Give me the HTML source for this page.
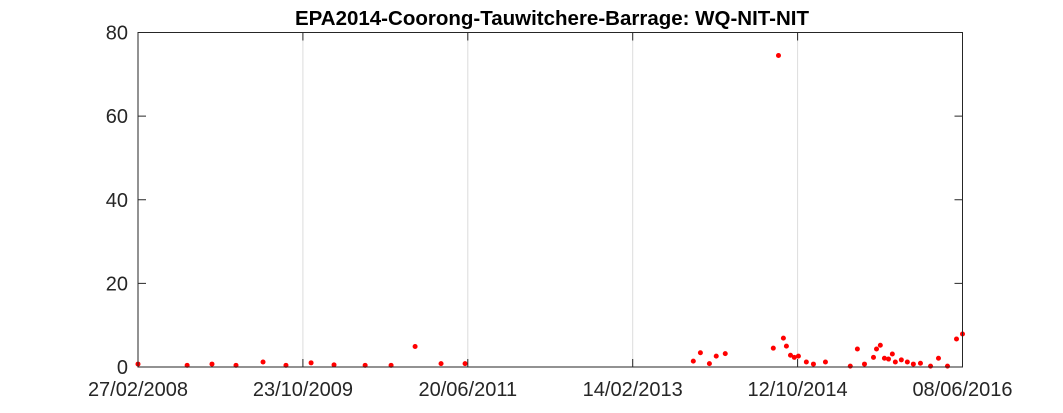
<!DOCTYPE html>
<html><head><meta charset="utf-8"><style>
html,body{margin:0;padding:0;background:#fff;}
svg{display:block;font-family:"Liberation Sans",Arial,sans-serif;}
</style></head><body>
<svg id="chart" width="1063" height="413">
<rect x="0" y="0" width="1063" height="413" fill="#fff"/>
<g id="grid"></g>
<g id="points"></g>
<g id="axes"></g>
<text x="552" y="25" text-anchor="middle" font-size="20.5" font-weight="bold" fill="#000">EPA2014-Coorong-Tauwitchere-Barrage: WQ-NIT-NIT</text>
</svg>
<script>
// days since 27/02/2008
const dayOffsets = [0,180,271,359,458,542,634,718,832,927,1015,1110,1198,2034,2060,2093,2118,2151,2327,2346,2364,2375,2390,2404,2419,2448,2474,2518,2609,2635,2661,2694,2705,2719,2734,2749,2763,2774,2796,2818,2840,2866,2903,2932,2965,2998,3020];
const values = [0.7,0.4,0.7,0.4,1.2,0.4,1.0,0.5,0.4,0.4,4.9,0.8,0.8,1.4,3.4,0.8,2.6,3.2,4.5,74.5,6.9,5.0,2.8,2.3,2.6,1.2,0.7,1.2,0.2,4.3,0.7,2.3,4.3,5.2,2.1,1.9,3.1,1.2,1.7,1.2,0.7,0.9,0.2,2.1,0.2,6.7,7.9];
const xTickDays = [0,604,1208,1812,2416,3020];
const xTickLabels = ["27/02/2008","23/10/2009","20/06/2011","14/02/2013","12/10/2014","08/06/2016"];
const yTicks = [0,20,40,60,80];

const L=138,R=962.5,T=32.5,B=367;
const xMin=0,xMax=3020,yMin=0,yMax=80;
const sx=d=>L+(d-xMin)/(xMax-xMin)*(R-L);
const sy=v=>B-(v-yMin)/(yMax-yMin)*(B-T);
const NS="http://www.w3.org/2000/svg";
function mk(tag,attrs,parent){const e=document.createElementNS(NS,tag);for(const k in attrs)e.setAttribute(k,attrs[k]);parent.appendChild(e);return e;}
const grid=document.getElementById('grid'),pts=document.getElementById('points'),axes=document.getElementById('axes');

xTickDays.forEach((d,i)=>{
  const x=sx(d);
  if(i>0&&i<xTickDays.length-1){
    const g=mk('line',{x1:x,x2:x,y1:T,y2:B,stroke:'#dcdcdc','stroke-width':1},grid);
    
    
  }
  const t1=mk('line',{x1:x,x2:x,y1:B,y2:B-8,stroke:'#262626','stroke-width':1},axes);
  
  
  const t2=mk('line',{x1:x,x2:x,y1:T,y2:T+8,stroke:'#262626','stroke-width':1},axes);
  
  
  const lb=mk('text',{x:x,y:B+29,'text-anchor':'middle','font-size':'20',fill:'#262626'},axes);
  lb.textContent=xTickLabels[i];
  
  
});
yTicks.forEach(v=>{
  const y=sy(v);
  const t1=mk('line',{x1:L,x2:L+8,y1:y,y2:y,stroke:'#262626','stroke-width':1},axes);
  
  
  const t2=mk('line',{x1:R-8,x2:R,y1:y,y2:y,stroke:'#262626','stroke-width':1},axes);
  
  
  const lb=mk('text',{x:L-10,y:y+7,'text-anchor':'end','font-size':'20',fill:'#262626'},axes);
  lb.textContent=v;
  
  
});
const box=mk('rect',{x:L,y:T,width:R-L,height:B-T,fill:'none',stroke:'#262626','stroke-width':1},axes);



dayOffsets.forEach((d,i)=>{
  const c=mk('circle',{cx:sx(d),cy:sy(values[i]),r:2.5,fill:'#ff0000'},pts);
  
  
});
</script>
</body></html>
